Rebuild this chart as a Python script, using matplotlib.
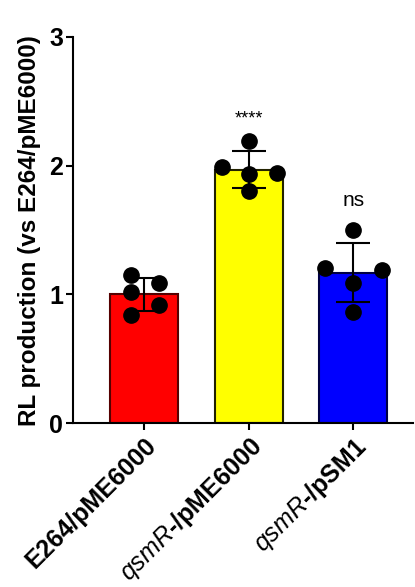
import numpy as np
import matplotlib
matplotlib.use('Agg')
import matplotlib.pyplot as plt

plt.rcParams['font.family'] = ['Liberation Sans', 'DejaVu Sans']
plt.rcParams['mathtext.fontset'] = 'custom'
plt.rcParams['mathtext.it'] = 'Liberation Sans:italic'
plt.rcParams['mathtext.rm'] = 'Liberation Sans'

# Data
groups = [r'E264/pME6000', r'$\mathit{qsmR}$-/pME6000', r'$\mathit{qsmR}$-/pSM1']
means = [1.00, 1.97, 1.17]
sds = [0.125, 0.145, 0.23]
points = [
    [1.155, 1.09, 1.016, 0.922, 0.839],
    [2.19, 1.987, 1.935, 1.94, 1.80],
    [1.50, 1.204, 1.194, 1.09, 0.865],
]
offsets = [
    [-0.13, 0.14, -0.13, 0.14, -0.13],
    [0.0, -0.26, 0.0, 0.27, 0.0],
    [0.0, -0.27, 0.27, 0.0, 0.0],
]
signif = ['', '****', 'ns']
fill_colors = ['#ff0000', '#ffff00', '#0000ff']
edge_colors = ['#550000', '#222200', '#000044']

fig = plt.figure(figsize=(4.15, 5.87), dpi=100)
ax = fig.add_axes([0.176, 0.279, 0.819, 0.658])

x = np.arange(len(groups))
ax.bar(x, means, width=0.65, color=fill_colors, edgecolor=edge_colors, linewidth=1.5, zorder=1)
ax.errorbar(x, means, yerr=sds, fmt='none', ecolor='black', elinewidth=1.5,
            capsize=12, capthick=1.5, zorder=2)
for i in range(len(groups)):
    ax.plot(x[i] + np.array(offsets[i]), points[i], 'o', color='black',
            markersize=11, zorder=3, linestyle='none')

ax.text(x[1], 2.36, signif[1], ha='center', va='center', fontsize=13)
ax.text(x[2], 1.73, signif[2], ha='center', va='center', fontsize=15)

ax.set_xlim(-0.68, 2.57)
ax.set_ylim(0, 3)
ax.set_yticks([0, 1, 2, 3])
ax.set_yticklabels(['0', '1', '2', '3'], fontsize=18, fontweight='bold')
ax.set_xticks(x)
ax.set_xticklabels(groups, rotation=45, ha='right', rotation_mode='anchor',
                   fontsize=18, fontweight='bold')
ax.set_ylabel('RL production (vs E264/pME6000)', fontsize=17.5, fontweight='bold',
              labelpad=6)

for side in ['top', 'right']:
    ax.spines[side].set_visible(False)
for side in ['left', 'bottom']:
    ax.spines[side].set_linewidth(1.5)
ax.tick_params(width=1.5, length=5, pad=2)

fig.savefig('out.png', dpi=100)
